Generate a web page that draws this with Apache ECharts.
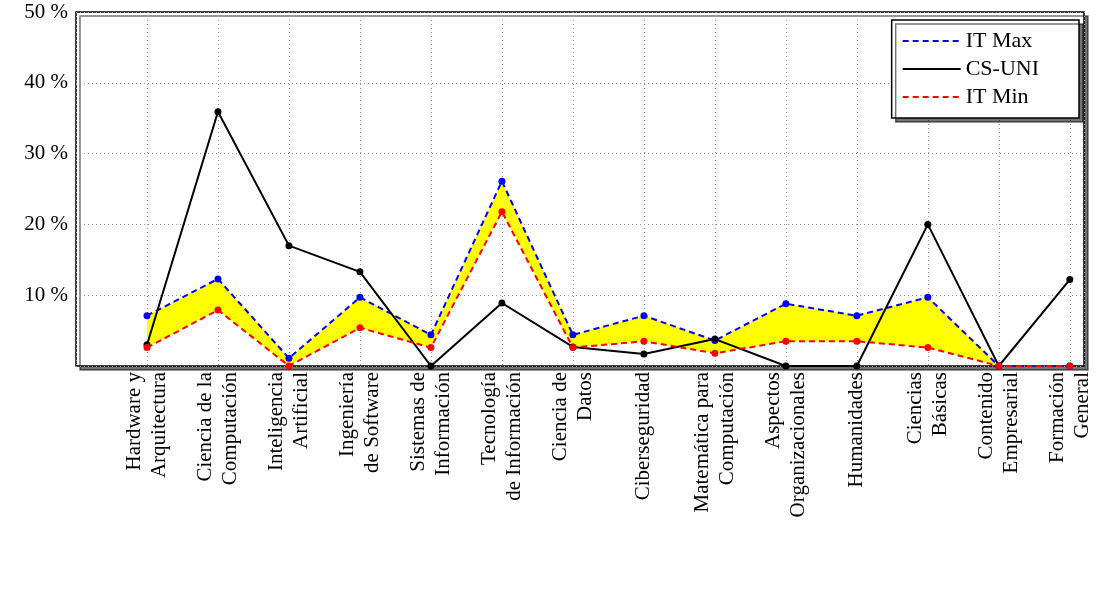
<!DOCTYPE html>
<html><head><meta charset="utf-8">
<script src="https://cdn.jsdelivr.net/npm/echarts@6/dist/echarts.min.js"></script>
<style>html,body{margin:0;padding:0;background:#fff}#c{width:1097px;height:589px}</style>
</head><body><div id="c"></div>
<script>
const categories = ["Hardware y\nArquitectura","Ciencia de la\nComputación","Inteligencia\nArtificial","Ingeniería\nde Software","Sistemas de\nInformación","Tecnología\nde Información","Ciencia de\nDatos","Ciberseguridad","Matemática para\nComputación","Aspectos\nOrganizacionales","Humanidades","Ciencias\nBásicas","Contenido\nEmpresarial","Formación\nGeneral"];
const itMax = [7.1,12.3,1.1,9.7,4.4,26.1,4.4,7.1,3.6,8.8,7.1,9.7,0,0];
const csUni = [3.0,35.9,17.0,13.3,0,8.9,2.7,1.7,3.8,0,0,20.0,0,12.2];
const itMin = [2.6,7.9,0,5.4,2.6,21.8,2.6,3.5,1.8,3.5,3.5,2.6,0,0];
const yTicks = [10,20,30,40,50];

const pts = a => a.map((v,i)=>[i+1,v]);
const font = "Liberation Serif";
const chart = echarts.init(document.getElementById('c'));
chart.setOption({
  animation:false,
  textStyle:{fontFamily:font,color:'#000'},
  grid:{left:76,right:13,top:12,bottom:223,show:true,borderColor:'#000',borderWidth:1.5,backgroundColor:'#fff',shadowColor:'rgba(0,0,0,0.55)',shadowOffsetX:4,shadowOffsetY:4,shadowBlur:0},
  xAxis:{type:'value',min:0,max:14.2,interval:1,
    axisLine:{show:false},axisTick:{show:false},
    splitLine:{show:true,lineStyle:{color:'#999',type:[1,3]}},
    axisLabel:{rotate:90,fontSize:21,fontFamily:font,color:'#000',lineHeight:25,margin:6,
      formatter:v=>(v>=1&&v<=14)?categories[v-1]:'' ,showMinLabel:false,showMaxLabel:false}},
  yAxis:{type:'value',min:0,max:50,interval:10,
    axisLine:{show:false},axisTick:{show:false},
    splitLine:{show:true,lineStyle:{color:'#999',type:[1,3]}},
    axisLabel:{fontSize:21,fontFamily:font,color:'#000',margin:8,formatter:v=>yTicks.includes(v)?v+' %':''}},
  legend:{orient:'vertical',right:18,top:20,backgroundColor:'#fff',borderColor:'#000',borderWidth:1.5,
    padding:[10,40,10,10],itemGap:6,itemWidth:58,itemHeight:22,
    shadowColor:'rgba(0,0,0,0.55)',shadowOffsetX:4,shadowOffsetY:4,
    textStyle:{fontSize:22,fontFamily:font,color:'#000'},itemStyle:{opacity:0},
    data:['IT Max','CS-UNI','IT Min']},
  series:[
    {name:'band',type:'custom',silent:true,z:1,data:[0],
      renderItem:(params,api)=>{
        const p=[];
        itMax.forEach((v,i)=>p.push(api.coord([i+1,v])));
        for(let i=itMin.length-1;i>=0;i--) p.push(api.coord([i+1,itMin[i]]));
        return {type:'polygon',shape:{points:p},style:{fill:'#ffff00'}};
      }},
    {name:'IT Max',type:'line',z:3,data:pts(itMax),symbol:'circle',symbolSize:7,color:'#0000ff',lineStyle:{color:'#0000ff',width:2,type:[6,4]},itemStyle:{color:'#0000ff'}},
    {name:'CS-UNI',type:'line',z:3,data:pts(csUni),symbol:'circle',symbolSize:7,color:'#000',lineStyle:{color:'#000',width:2},itemStyle:{color:'#000'}},
    {name:'IT Min',type:'line',z:3,data:pts(itMin),symbol:'circle',symbolSize:7,color:'#ff0000',lineStyle:{color:'#ff0000',width:2,type:[6,4]},itemStyle:{color:'#ff0000'}}
  ]
});
</script></body></html>
